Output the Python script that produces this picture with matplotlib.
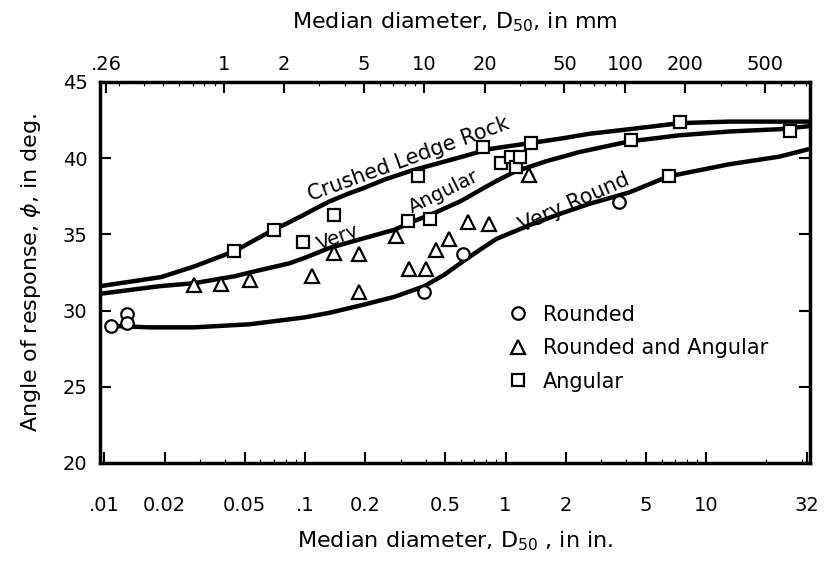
import matplotlib.pyplot as plt

# ------------------------------------------------------------
# Data (D50 in inches, angle in degrees)
# ------------------------------------------------------------
# fitted curves
crushed_x = [0.0095, 0.0192, 0.0281, 0.0445, 0.0696, 0.0836, 0.0993, 0.115, 0.132,
             0.1665, 0.193, 0.25, 0.343, 0.610, 0.830, 1.345, 1.919, 2.617, 4.14,
             7.43, 13.05, 32.7]
crushed_y = [31.6, 32.2, 32.9, 33.9, 35.3, 35.8, 36.3, 36.75, 37.15,
             37.7, 38.0, 38.6, 39.2, 40.1, 40.6, 41.0, 41.3, 41.6, 41.9,
             42.3, 42.4, 42.4]

very_angular_x = [0.0095, 0.0188, 0.0281, 0.0445, 0.0572, 0.0836, 0.0993, 0.132,
                  0.191, 0.279, 0.339, 0.442, 0.602, 0.757, 0.900, 1.106, 1.597,
                  2.333, 4.14, 7.35, 13.05, 23.2, 32.7]
very_angular_y = [31.1, 31.6, 31.8, 32.25, 32.6, 33.1, 33.45, 34.1,
                  34.7, 35.3, 35.8, 36.4, 37.2, 37.95, 38.5, 39.1, 39.8,
                  40.4, 41.1, 41.5, 41.75, 41.9, 42.1]

very_round_x = [0.0108, 0.0168, 0.0281, 0.0528, 0.0993, 0.132, 0.191, 0.279,
                0.394, 0.495, 0.610, 0.757, 0.900, 1.314, 1.919, 2.617, 4.14,
                6.48, 13.05, 23.2, 32.7]
very_round_y = [29.0, 28.9, 28.9, 29.1, 29.55, 29.85, 30.35, 30.9,
                31.6, 32.35, 33.2, 34.05, 34.7, 35.6, 36.4, 37.0, 37.75,
                38.8, 39.6, 40.1, 40.6]

# measured points
rounded_x = [0.0108, 0.0129, 0.0129, 0.394, 0.611, 3.69]
rounded_y = [29.0, 29.8, 29.2, 31.2, 33.7, 37.1]

mixed_x = [0.0279, 0.0382, 0.0535, 0.109, 0.139, 0.187, 0.187, 0.284, 0.331,
           0.402, 0.451, 0.525, 0.653, 0.824, 1.315]
mixed_y = [31.7, 31.75, 32.0, 32.3, 33.8, 33.7, 31.2, 34.9, 32.7,
           32.7, 34.0, 34.7, 35.8, 35.7, 38.9]

angular_x = [0.0445, 0.0698, 0.0974, 0.140, 0.325, 0.367, 0.422, 0.775, 0.951,
             1.065, 1.127, 1.18, 1.34, 4.22, 6.50, 7.41, 26.2]
angular_y = [33.9, 35.3, 34.5, 36.3, 35.9, 38.8, 36.0, 40.75, 39.7,
             40.1, 39.4, 40.1, 41.0, 41.2, 38.8, 42.4, 41.8]

in_ticks = [0.01, 0.02, 0.05, 0.1, 0.2, 0.5, 1, 2, 5, 10, 32]
in_labels = [".01", "0.02", "0.05", ".1", "0.2", "0.5", "1", "2", "5", "10", "32"]
mm_ticks = [0.26, 1, 2, 5, 10, 20, 50, 100, 200, 500]
mm_labels = [".26", "1", "2", "5", "10", "20", "50", "100", "200", "500"]

# ------------------------------------------------------------
# Plot
# ------------------------------------------------------------
plt.rcParams["font.family"] = "DejaVu Sans"

fig = plt.figure(figsize=(8.38, 5.74), dpi=100)
ax = fig.add_axes([0.1193, 0.1934, 0.8473, 0.6638])

ax.plot(crushed_x, crushed_y, color="black", lw=3.2, solid_capstyle="butt")
ax.plot(very_angular_x, very_angular_y, color="black", lw=3.2, solid_capstyle="butt")
ax.plot(very_round_x, very_round_y, color="black", lw=3.2, solid_capstyle="butt")

mk = dict(ls="none", mfc="white", mec="black", mew=1.6, zorder=5)
ax.plot(rounded_x, rounded_y, "o", ms=9, label="Rounded", **mk)
ax.plot(mixed_x, mixed_y, "^", ms=10, label="Rounded and Angular", **mk)
ax.plot(angular_x, angular_y, "s", ms=8.5, label="Angular", **mk)

# curve names
ax.text(0.33, 39.9, "Crushed Ledge Rock", rotation=20, fontsize=15,
        ha="center", va="center", rotation_mode="anchor")
ax.text(0.147, 34.8, "Very", rotation=20, fontsize=14,
        ha="center", va="center", rotation_mode="anchor")
ax.text(0.49, 37.8, "Angular", rotation=26, fontsize=14,
        ha="center", va="center", rotation_mode="anchor")
ax.text(2.20, 37.1, "Very Round", rotation=24, fontsize=15,
        ha="center", va="center", rotation_mode="anchor")

ax.set_xscale("log")
ax.set_xlim(0.0095, 33)
ax.set_ylim(20, 45)
ax.set_xticks(in_ticks)
ax.set_xticklabels(in_labels)
ax.set_yticks([20, 25, 30, 35, 40, 45])
ax.tick_params(which="major", direction="in", length=8, width=1.5,
               labelsize=14, top=False, right=True)
ax.tick_params(axis="x", which="major", pad=24)
ax.tick_params(axis="y", which="major", pad=9)
ax.tick_params(which="minor", direction="in", length=3, width=0.8,
               top=False, right=False)
ax.xaxis.set_minor_formatter(plt.NullFormatter())

for s in ax.spines.values():
    s.set_linewidth(2.5)

ax.set_xlabel("Median diameter, D$_{50}$ , in in.", fontsize=16, labelpad=10)
ax.set_ylabel("Angle of response, $\\phi$, in deg.", fontsize=16, labelpad=14)

top = ax.secondary_xaxis("top", functions=(lambda d: d * 25.4, lambda d: d / 25.4))
top.set_xticks(mm_ticks)
top.set_xticklabels(mm_labels)
top.tick_params(which="major", direction="in", length=8, width=1.5,
                labelsize=14, pad=6)
top.tick_params(which="minor", direction="in", length=3, width=0.8)
top.xaxis.set_minor_formatter(plt.NullFormatter())
top.set_xlabel("Median diameter, D$_{50}$, in mm", fontsize=16, labelpad=19)

ax.legend(loc="upper left", bbox_to_anchor=(0.545, 0.465), frameon=False,
          fontsize=15, handletextpad=0.6, labelspacing=0.65, handlelength=1.2)

fig.savefig("out.png", dpi=100)
